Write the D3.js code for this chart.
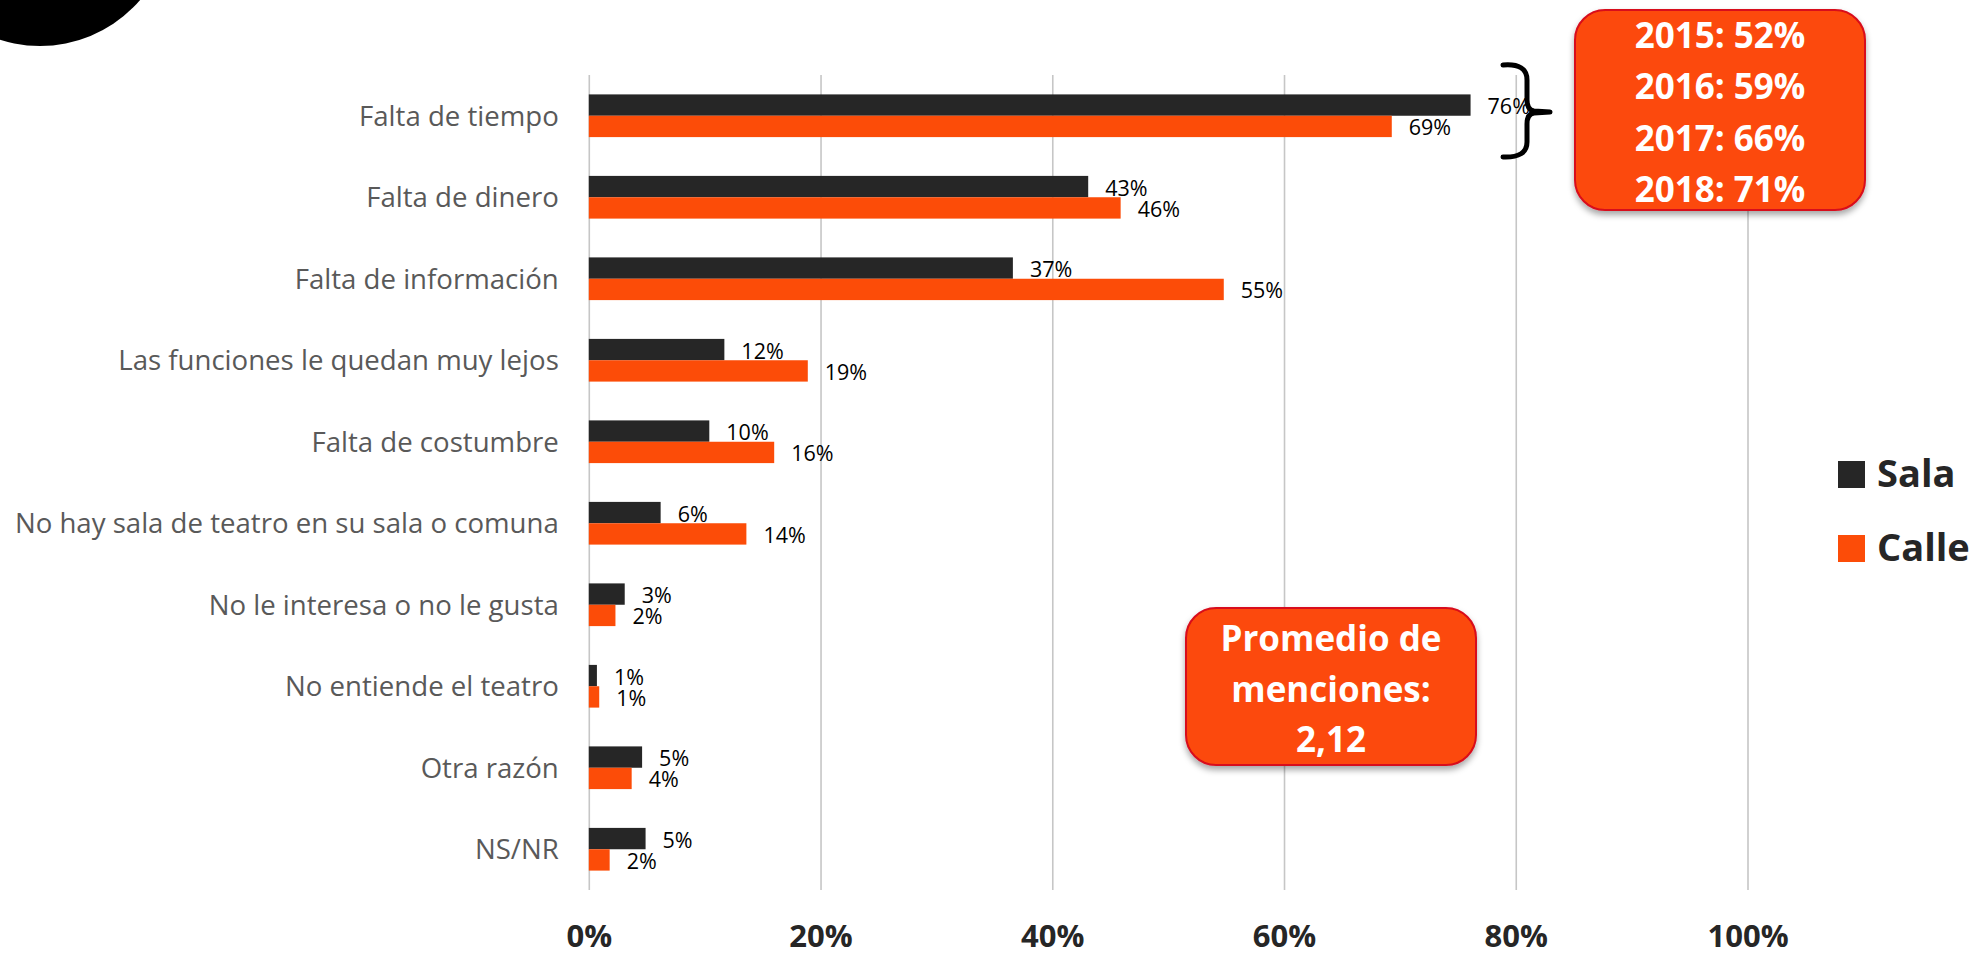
<!DOCTYPE html>
<html>
<head>
<meta charset="utf-8">
<script src="https://cdn.jsdelivr.net/npm/d3@7"></script>
<style>
  html, body { margin: 0; padding: 0; background: #ffffff; }
  svg { display: block; }
</style>
</head>
<body>
<svg id="chart" width="1977" height="955"></svg>
<script>
// ---- data ----
const categories = [
  "Falta de tiempo",
  "Falta de dinero",
  "Falta de información",
  "Las funciones le quedan muy lejos",
  "Falta de costumbre",
  "No hay sala de teatro en su sala o comuna",
  "No le interesa o no le gusta",
  "No entiende el teatro",
  "Otra razón",
  "NS/NR"
];
const seriesNames = ["Sala", "Calle"];
const salaValues  = [76.1, 43.1, 36.6, 11.7, 10.4, 6.2, 3.1, 0.7, 4.6, 4.9];
const calleValues = [69.3, 45.9, 54.8, 18.9, 16.0, 13.6, 2.3, 0.9, 3.7, 1.8];
const tickValues = [0, 20, 40, 60, 80, 100];
const yearNotes = ["2015: 52%", "2016: 59%", "2017: 66%", "2018: 71%"];
const averageNote = ["Promedio de", "menciones:", "2,12"];

// ---- styles ----
const COLORS = { Sala: "#262626", Calle: "#FC4C08" };
const svg = d3.select("#chart");

const defs = svg.append("defs");
const f = defs.append("filter").attr("id", "shadow")
  .attr("x", "-10%").attr("y", "-10%").attr("width", "130%").attr("height", "140%");
f.append("feDropShadow").attr("dx", 0).attr("dy", 4).attr("stdDeviation", 3)
  .attr("flood-color", "#000").attr("flood-opacity", 0.35);

// decorative black circle top-left
svg.append("circle").attr("cx", 40).attr("cy", -86).attr("r", 132).attr("fill", "#000");

// ---- scales ----
const x = d3.scaleLinear().domain([0, 100]).range([588.8, 1747.5]);
const y = d3.scaleBand().domain(categories).range([75, 890])
  .paddingInner(0.476).paddingOuter(0.238);
const ySub = d3.scaleBand().domain(seriesNames).range([0, y.bandwidth()]);

// gridlines
const grid = svg.append("g").attr("transform", "translate(0,890)")
  .call(d3.axisBottom(x).tickValues(tickValues).tickSize(-(890 - 75)).tickFormat(""));
grid.select(".domain").remove();
grid.selectAll(".tick line").attr("stroke", "#C6C6C6").attr("stroke-width", 1.6);

// x tick labels
const xAxis = svg.append("g").attr("transform", "translate(0,947)")
  .call(d3.axisBottom(x).tickValues(tickValues).tickFormat(d => d + "%").tickSize(0).tickPadding(0));
xAxis.select(".domain").remove();
xAxis.selectAll("text")
  .attr("y", 0).attr("dy", 0)
  .attr("font-family", "'Open Sans', sans-serif")
  .attr("font-weight", "bold")
  .attr("font-size", 31)
  .attr("fill", "#262626");

// y category labels
const yAxis = svg.append("g").attr("transform", `translate(${x(0)},0)`)
  .call(d3.axisLeft(y).tickSize(0).tickPadding(30));
yAxis.select(".domain").remove();
yAxis.selectAll("text")
  .attr("dy", "0.36em")
  .attr("font-family", "'Open Sans', sans-serif")
  .attr("font-size", 27.6)
  .attr("fill", "#595959");

// bars
const rows = categories.map((c, i) => ({ cat: c, Sala: salaValues[i], Calle: calleValues[i] }));
const groups = svg.append("g").selectAll("g").data(rows).join("g")
  .attr("transform", d => `translate(0,${y(d.cat)})`);

groups.selectAll("rect").data(d => seriesNames.map(s => ({ s, v: d[s] }))).join("rect")
  .attr("x", x(0))
  .attr("y", d => ySub(d.s))
  .attr("width", d => x(d.v) - x(0))
  .attr("height", ySub.bandwidth())
  .attr("fill", d => COLORS[d.s]);

groups.selectAll("text").data(d => seriesNames.map(s => ({ s, v: d[s] }))).join("text")
  .attr("x", d => x(d.v) + 17)
  .attr("y", d => ySub(d.s) + ySub.bandwidth() / 2 + 9)
  .attr("font-family", "'Open Sans', sans-serif")
  .attr("font-size", 21.5)
  .attr("fill", "#000")
  .text(d => Math.round(d.v) + "%");

// legend
const legend = svg.append("g");
seriesNames.forEach((s, i) => {
  const gy = 461 + i * 74;
  legend.append("rect").attr("x", 1838).attr("y", gy).attr("width", 27).attr("height", 27)
    .attr("fill", COLORS[s]);
  legend.append("text").attr("x", 1877).attr("y", gy + 26)
    .attr("font-family", "'Open Sans', sans-serif").attr("font-weight", "bold")
    .attr("font-size", 38).attr("fill", "#262626").text(s);
});

// brace
svg.append("path")
  .attr("d", "M1503,65 Q1527,63 1527,80 L1527,100 Q1527,110 1534,111 L1550,112 L1534,113 Q1527,114 1527,124 L1527,142 Q1527,158 1503,157")
  .attr("fill", "none").attr("stroke", "#000").attr("stroke-width", 5)
  .attr("stroke-linecap", "round").attr("stroke-linejoin", "round");

// year notes box
const box1 = svg.append("g");
box1.append("rect").attr("x", 1575).attr("y", 10).attr("width", 290).attr("height", 200)
  .attr("rx", 30).attr("ry", 30)
  .attr("fill", "#FC4A07").attr("stroke", "#D8091B").attr("stroke-width", 2)
  .attr("filter", "url(#shadow)");
box1.selectAll("text").data(yearNotes).join("text")
  .attr("x", 1720).attr("y", (d, i) => 48 + i * 51.3)
  .attr("text-anchor", "middle")
  .attr("font-family", "'Open Sans', sans-serif").attr("font-weight", "bold")
  .attr("font-size", 35).attr("fill", "#fff").text(d => d);

// average note box
const box2 = svg.append("g");
box2.append("rect").attr("x", 1186).attr("y", 608).attr("width", 290).attr("height", 157)
  .attr("rx", 30).attr("ry", 30)
  .attr("fill", "#FC4A07").attr("stroke", "#D8091B").attr("stroke-width", 2)
  .attr("filter", "url(#shadow)");
box2.selectAll("text").data(averageNote).join("text")
  .attr("x", 1331).attr("y", (d, i) => 651 + i * 50.6)
  .attr("text-anchor", "middle")
  .attr("font-family", "'Open Sans', sans-serif").attr("font-weight", "bold")
  .attr("font-size", 35).attr("fill", "#fff").text(d => d);
</script>
</body>
</html>
